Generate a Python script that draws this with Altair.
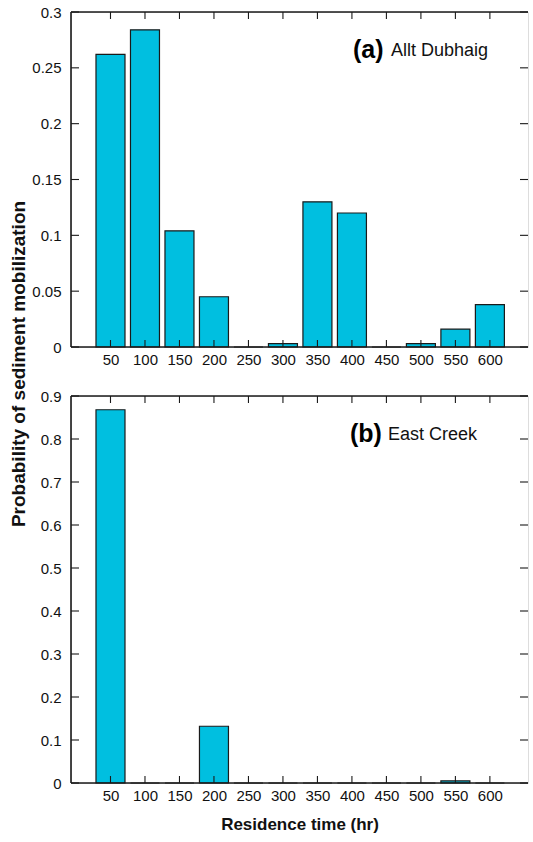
import altair as alt
import pandas as pd

residence = [50, 100, 150, 200, 250, 300, 350, 400, 450, 500, 550, 600]
prob_allt = [0.262, 0.284, 0.104, 0.045, 0.0, 0.003, 0.130, 0.120, 0.0, 0.003, 0.016, 0.038]
prob_east = [0.868, 0.0, 0.0, 0.132, 0.0, 0.0, 0.0, 0.0, 0.0, 0.0, 0.005, 0.0]
yticks_a = [0, 0.05, 0.1, 0.15, 0.2, 0.25, 0.3]
yticks_b = [0, 0.1, 0.2, 0.3, 0.4, 0.5, 0.6, 0.7, 0.8, 0.9]
xticks = residence

W = 457
HA = 335
HB = 387
FONT = "Liberation Sans"
BAR_FILL = "#00BFE0"
EDGE = "#1a1a1a"


def panel(vals, yticks, ymax, tag, name, height, show_xtitle, tag_x, name_x):
    df = pd.DataFrame({"t": residence, "p": vals})
    xscale = alt.Scale(domain=[0, 648], nice=False, zero=False)
    yscale = alt.Scale(domain=[0, ymax], nice=False)
    xaxis_kw = dict(values=xticks, tickSize=0, domain=False, grid=False,
                    labelPadding=5, labelFontSize=15, labelColor="#111",
                    labelFont=FONT)
    if show_xtitle:
        xaxis_kw.update(title="Residence time (hr)", titleFontSize=17,
                        titleFontWeight="bold", titlePadding=13, titleFont=FONT,
                        titleColor="#111")
    else:
        xaxis_kw.update(title="")
    yaxis = alt.Axis(values=yticks, tickSize=0, domain=False, grid=False,
                     labelPadding=10, labelFontSize=15, format="~g",
                     labelColor="#111", labelFont=FONT, title="")
    xaxis = alt.Axis(**xaxis_kw)

    def X(f):
        return alt.X(f, type="quantitative", scale=xscale, axis=xaxis)

    def Y(f):
        return alt.Y(f, type="quantitative", scale=yscale, axis=yaxis)

    bars = alt.Chart(df).mark_bar(size=29, fill=BAR_FILL, stroke=EDGE,
                                  strokeWidth=1.2).encode(x=X("t"), y=Y("p"))

    ydf = pd.DataFrame({"t": [0] * len(yticks), "p": yticks})
    xdf = pd.DataFrame({"t": xticks, "p": [0] * len(xticks)})
    rule = dict(color=EDGE, strokeWidth=1.1)
    tick_l = alt.Chart(ydf).mark_rule(**rule).encode(
        y=Y("p"), x=alt.value(0), x2=alt.value(8))
    tick_r = alt.Chart(ydf).mark_rule(**rule).encode(
        y=Y("p"), x=alt.value(W - 8), x2=alt.value(W))
    tick_t = alt.Chart(xdf).mark_rule(**rule).encode(
        x=X("t"), y=alt.value(0), y2=alt.value(7))
    tick_b = alt.Chart(xdf).mark_rule(**rule).encode(
        x=X("t"), y=alt.value(height - 7), y2=alt.value(height))

    one = alt.Data(values=[{"k": 1}])
    frame = dict(color=EDGE, strokeWidth=1.6)
    f_left = alt.Chart(one).mark_rule(**frame).encode(
        x=alt.value(0), y=alt.value(0), y2=alt.value(height))
    f_top = alt.Chart(one).mark_rule(**frame).encode(
        y=alt.value(0), x=alt.value(0), x2=alt.value(W))
    f_bot = alt.Chart(one).mark_rule(**frame).encode(
        y=alt.value(height), x=alt.value(0), x2=alt.value(W))

    tag_text = alt.Chart(one).mark_text(
        text=tag, font=FONT, fontSize=25, fontWeight="bold", align="left",
        baseline="middle", color="#000").encode(x=alt.value(tag_x), y=alt.value(38))
    name_text = alt.Chart(one).mark_text(
        text=name, font=FONT, fontSize=18, align="left", baseline="middle",
        color="#111").encode(x=alt.value(name_x), y=alt.value(39))

    return [bars, tick_l, tick_r, tick_t, tick_b, f_left, f_top, f_bot,
            tag_text, name_text]


la = panel(prob_allt, yticks_a, 0.3, "(a)", "Allt Dubhaig", HA, False, 282, 320)
ytitle = alt.Chart(alt.Data(values=[{"k": 1}])).mark_text(
    text="Probability of sediment mobilization", font=FONT, fontSize=19,
    fontWeight="bold", angle=270, align="center", baseline="middle",
    color="#111").encode(x=alt.value(-52), y=alt.value(352))
top = alt.layer(*la, ytitle).properties(width=W, height=HA)

lb = panel(prob_east, yticks_b, 0.9, "(b)", "East Creek", HB, True, 279, 317)
bottom = alt.layer(*lb).properties(width=W, height=HB)

chart = alt.vconcat(top, bottom, spacing=49, bounds="flush").properties(
    padding={"left": 9, "top": 4, "right": 0, "bottom": 0}
).configure_view(strokeWidth=0).configure(font=FONT)

chart.save("out.html", embed_options={"renderer": "svg", "actions": False})
